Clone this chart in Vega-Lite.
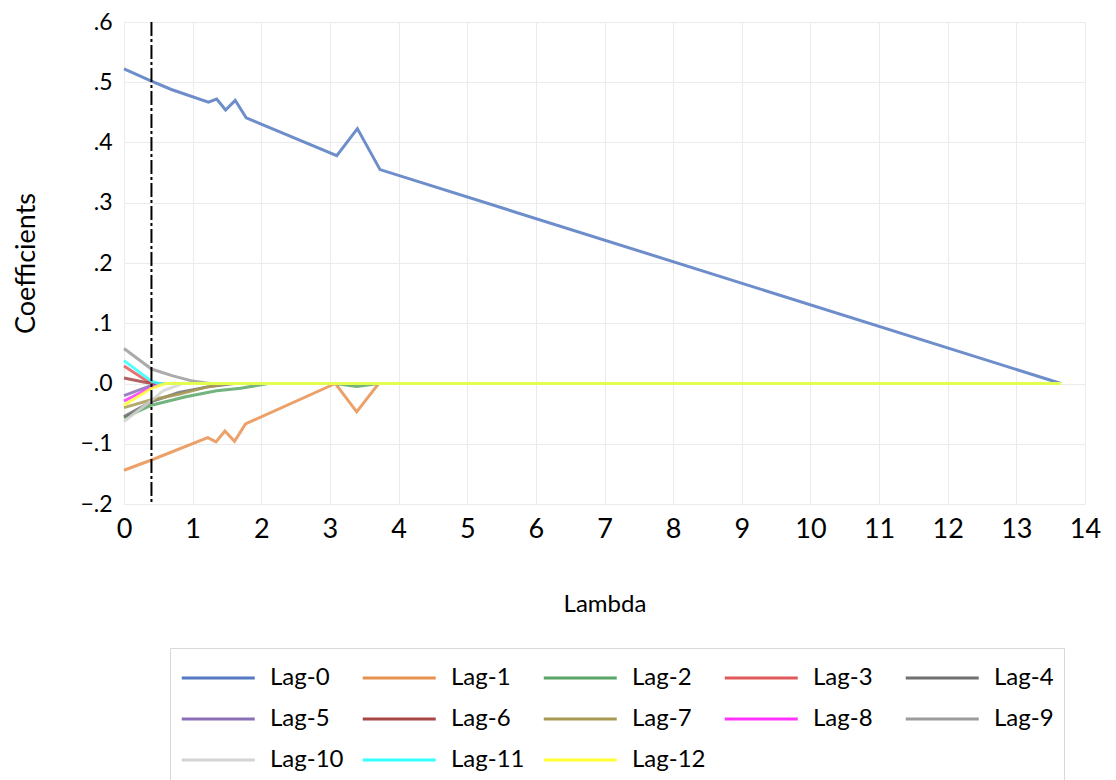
{
  "$schema": "https://vega.github.io/schema/vega-lite/v6.json",
  "autosize": "none",
  "width": 961,
  "height": 482,
  "padding": {"left": 124, "top": 22, "right": 31, "bottom": 276},
  "background": "white",
  "config": {
    "font": "Lato",
    "view": {"stroke": null},
    "axis": {"labelFont": "Lato", "titleFont": "Lato", "labelColor": "#000000", "titleColor": "#000000", "gridColor": "#ebebeb", "gridWidth": 1, "domain": false, "ticks": false, "labelFlush": false}
  },
  "datasets": {
    "coef": [
      {"series": "Lag-0", "lambda": 0, "coef": 0.522},
      {"series": "Lag-0", "lambda": 0.4, "coef": 0.502},
      {"series": "Lag-0", "lambda": 0.69, "coef": 0.488},
      {"series": "Lag-0", "lambda": 1.23, "coef": 0.467},
      {"series": "Lag-0", "lambda": 1.35, "coef": 0.472},
      {"series": "Lag-0", "lambda": 1.48, "coef": 0.454},
      {"series": "Lag-0", "lambda": 1.62, "coef": 0.470},
      {"series": "Lag-0", "lambda": 1.78, "coef": 0.441},
      {"series": "Lag-0", "lambda": 3.10, "coef": 0.378},
      {"series": "Lag-0", "lambda": 3.40, "coef": 0.423},
      {"series": "Lag-0", "lambda": 3.73, "coef": 0.355},
      {"series": "Lag-0", "lambda": 13.65, "coef": 0.0},

      {"series": "Lag-1", "lambda": 0, "coef": -0.144},
      {"series": "Lag-1", "lambda": 0.4, "coef": -0.127},
      {"series": "Lag-1", "lambda": 1.22, "coef": -0.090},
      {"series": "Lag-1", "lambda": 1.34, "coef": -0.097},
      {"series": "Lag-1", "lambda": 1.47, "coef": -0.079},
      {"series": "Lag-1", "lambda": 1.61, "coef": -0.096},
      {"series": "Lag-1", "lambda": 1.77, "coef": -0.067},
      {"series": "Lag-1", "lambda": 3.08, "coef": 0.0},
      {"series": "Lag-1", "lambda": 3.39, "coef": -0.047},
      {"series": "Lag-1", "lambda": 3.71, "coef": 0.0},
      {"series": "Lag-1", "lambda": 13.65, "coef": 0.0},

      {"series": "Lag-2", "lambda": 0, "coef": -0.057},
      {"series": "Lag-2", "lambda": 0.4, "coef": -0.036},
      {"series": "Lag-2", "lambda": 0.9, "coef": -0.022},
      {"series": "Lag-2", "lambda": 1.35, "coef": -0.012},
      {"series": "Lag-2", "lambda": 1.7, "coef": -0.008},
      {"series": "Lag-2", "lambda": 2.1, "coef": 0.0},
      {"series": "Lag-2", "lambda": 3.08, "coef": 0.0},
      {"series": "Lag-2", "lambda": 3.39, "coef": -0.005},
      {"series": "Lag-2", "lambda": 3.71, "coef": 0.0},
      {"series": "Lag-2", "lambda": 13.65, "coef": 0.0},

      {"series": "Lag-3", "lambda": 0, "coef": 0.029},
      {"series": "Lag-3", "lambda": 0.35, "coef": 0.003},
      {"series": "Lag-3", "lambda": 0.45, "coef": 0.0},
      {"series": "Lag-3", "lambda": 13.65, "coef": 0.0},

      {"series": "Lag-4", "lambda": 0, "coef": -0.055},
      {"series": "Lag-4", "lambda": 0.4, "coef": -0.030},
      {"series": "Lag-4", "lambda": 0.8, "coef": -0.015},
      {"series": "Lag-4", "lambda": 1.2, "coef": -0.006},
      {"series": "Lag-4", "lambda": 1.6, "coef": 0.0},
      {"series": "Lag-4", "lambda": 13.65, "coef": 0.0},

      {"series": "Lag-5", "lambda": 0, "coef": -0.020},
      {"series": "Lag-5", "lambda": 0.4, "coef": -0.003},
      {"series": "Lag-5", "lambda": 0.5, "coef": 0.0},
      {"series": "Lag-5", "lambda": 13.65, "coef": 0.0},

      {"series": "Lag-6", "lambda": 0, "coef": 0.009},
      {"series": "Lag-6", "lambda": 0.3, "coef": 0.002},
      {"series": "Lag-6", "lambda": 0.45, "coef": 0.0},
      {"series": "Lag-6", "lambda": 13.65, "coef": 0.0},

      {"series": "Lag-7", "lambda": 0, "coef": -0.040},
      {"series": "Lag-7", "lambda": 0.4, "coef": -0.027},
      {"series": "Lag-7", "lambda": 0.8, "coef": -0.018},
      {"series": "Lag-7", "lambda": 1.2, "coef": -0.006},
      {"series": "Lag-7", "lambda": 1.5, "coef": 0.0},
      {"series": "Lag-7", "lambda": 13.65, "coef": 0.0},

      {"series": "Lag-8", "lambda": 0, "coef": -0.029},
      {"series": "Lag-8", "lambda": 0.4, "coef": -0.006},
      {"series": "Lag-8", "lambda": 0.55, "coef": 0.0},
      {"series": "Lag-8", "lambda": 13.65, "coef": 0.0},

      {"series": "Lag-9", "lambda": 0, "coef": 0.058},
      {"series": "Lag-9", "lambda": 0.4, "coef": 0.024},
      {"series": "Lag-9", "lambda": 0.7, "coef": 0.013},
      {"series": "Lag-9", "lambda": 1.0, "coef": 0.004},
      {"series": "Lag-9", "lambda": 1.25, "coef": 0.0},
      {"series": "Lag-9", "lambda": 13.65, "coef": 0.0},

      {"series": "Lag-10", "lambda": 0, "coef": -0.063},
      {"series": "Lag-10", "lambda": 0.4, "coef": -0.028},
      {"series": "Lag-10", "lambda": 0.57, "coef": -0.012},
      {"series": "Lag-10", "lambda": 0.85, "coef": 0.0},
      {"series": "Lag-10", "lambda": 13.65, "coef": 0.0},

      {"series": "Lag-11", "lambda": 0, "coef": 0.038},
      {"series": "Lag-11", "lambda": 0.4, "coef": 0.004},
      {"series": "Lag-11", "lambda": 0.5, "coef": 0.0},
      {"series": "Lag-11", "lambda": 13.65, "coef": 0.0},

      {"series": "Lag-12", "lambda": 0, "coef": -0.036},
      {"series": "Lag-12", "lambda": 0.4, "coef": -0.008},
      {"series": "Lag-12", "lambda": 0.6, "coef": 0.0},
      {"series": "Lag-12", "lambda": 13.65, "coef": 0.0}
    ],
    "optimal": [{"lambda": 0.4}]
  },
  "layer": [
    {
      "data": {"name": "coef"},
      "mark": {"type": "line", "strokeWidth": 3, "strokeOpacity": 0.85},
      "encoding": {
        "x": {
          "field": "lambda", "type": "quantitative",
          "scale": {"domain": [0, 14], "nice": false, "zero": false},
          "axis": {"values": [0,1,2,3,4,5,6,7,8,9,10,11,12,13,14], "format": "d", "title": "Lambda", "labelFontSize": 27, "labelPadding": 12, "titleFontSize": 24, "titleFontWeight": "normal", "titlePadding": 50}
        },
        "y": {
          "field": "coef", "type": "quantitative",
          "scale": {"domain": [-0.2, 0.6], "nice": false},
          "axis": {"values": [-0.2,-0.1,0,0.1,0.2,0.3,0.4,0.5,0.6], "labelExpr": "replace(format(datum.value, '.1f'), '0.', '.')", "title": "Coefficients", "labelFontSize": 23, "labelPadding": 12, "titleFontSize": 27, "titleFontWeight": "normal", "titlePadding": 39}
        },
        "color": {
          "field": "series", "type": "nominal",
          "sort": ["Lag-0","Lag-1","Lag-2","Lag-3","Lag-4","Lag-5","Lag-6","Lag-7","Lag-8","Lag-9","Lag-10","Lag-11","Lag-12"],
          "scale": {
            "domain": ["Lag-0","Lag-1","Lag-2","Lag-3","Lag-4","Lag-5","Lag-6","Lag-7","Lag-8","Lag-9","Lag-10","Lag-11","Lag-12"],
            "range": ["#5579C2","#E8914F","#5AA666","#E05A5A","#707070","#8A6FB6","#A84545","#A89A55","#FF33FF","#9C9C9C","#D3D3D3","#33FFFF","#FFFF33"]
          },
          "legend": {
            "title": null,
            "orient": "none",
            "direction": "horizontal",
            "legendX": 46,
            "legendY": 626,
            "columns": 5,
            "gridAlign": "all",
            "columnPadding": 12,
            "rowPadding": 9,
            "padding": 10,
            "strokeColor": "#d9d9d9",
            "fillColor": "#ffffff",
            "symbolType": "M-1,0H3",
            "symbolSize": 1332,
            "symbolStrokeWidth": 3,
            "symbolOpacity": 1,
            "labelOffset": 50,
            "labelFont": "Lato",
            "labelFontSize": 24,
            "labelColor": "#000000",
            "labelLimit": 200
          }
        },
        "order": {"field": "lambda", "type": "quantitative"}
      }
    },
    {
      "data": {"name": "optimal"},
      "mark": {"type": "rule", "color": "#000000", "strokeWidth": 2, "strokeDash": [14, 3, 3, 3]},
      "encoding": {
        "x": {"field": "lambda", "type": "quantitative"}
      }
    }
  ]
}
